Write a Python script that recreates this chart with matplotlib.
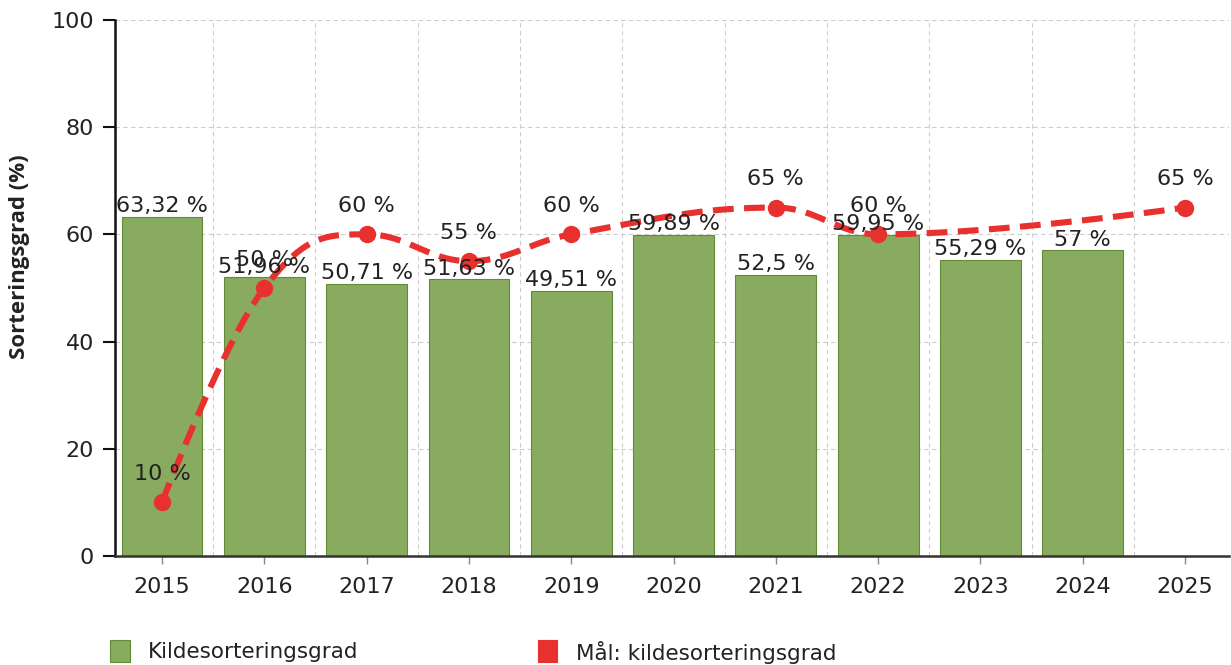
import numpy as np
import matplotlib
matplotlib.use("Agg")
import matplotlib.pyplot as plt
from matplotlib.patches import Rectangle

years = ["2015", "2016", "2017", "2018", "2019", "2020", "2021", "2022", "2023", "2024", "2025"]
kildesortering = [63.32, 51.96, 50.71, 51.63, 49.51, 59.89, 52.5, 59.95, 55.29, 57.0, np.nan]
maal = [10, 50, 60, 55, 60, np.nan, 65, 60, np.nan, np.nan, 65]
y_ticks = [0, 20, 40, 60, 80, 100]
bar_label = "Kildesorteringsgrad"
line_label = "Mål: kildesorteringsgrad"
y_title = "Sorteringsgrad (%)"

GREEN = "#88ab5f"
GREEN_EDGE = "#5f8c34"
RED = "#e8302e"

def fmt(v):
    s = ("%.2f" % v).rstrip("0").rstrip(".")
    return s.replace(".", ",") + " %"

def spline_path(xs, ys, smoothing=1.5, n=40):
    """Highcharts-style spline rendering through the given points."""
    m = len(xs)
    lc = [(x, y) for x, y in zip(xs, ys)]
    rc = [(x, y) for x, y in zip(xs, ys)]
    d = smoothing + 1
    for i in range(1, m - 1):
        x, y = xs[i], ys[i]
        lx, ly = xs[i - 1], ys[i - 1]
        nx, ny = xs[i + 1], ys[i + 1]
        lcx = (smoothing * x + lx) / d
        lcy = (smoothing * y + ly) / d
        rcx = (smoothing * x + nx) / d
        rcy = (smoothing * y + ny) / d
        if rcx != lcx:
            corr = ((rcy - lcy) * (rcx - x)) / (rcx - lcx) + y - rcy
            lcy += corr
            rcy += corr
        if lcy > max(ly, y):
            lcy = max(ly, y); rcy = 2 * y - lcy
        elif lcy < min(ly, y):
            lcy = min(ly, y); rcy = 2 * y - lcy
        if rcy > max(y, ny):
            rcy = max(y, ny); lcy = 2 * y - rcy
        elif rcy < min(y, ny):
            rcy = min(y, ny); lcy = 2 * y - rcy
        lc[i] = (lcx, lcy)
        rc[i] = (rcx, rcy)
    px, py = [xs[0]], [ys[0]]
    t = np.linspace(0, 1, n)[1:]
    for i in range(1, m):
        p0 = np.array([xs[i - 1], ys[i - 1]])
        p1 = np.array(rc[i - 1])
        p2 = np.array(lc[i])
        p3 = np.array([xs[i], ys[i]])
        b = ((1 - t) ** 3)[:, None] * p0 + (3 * (1 - t) ** 2 * t)[:, None] * p1 \
            + (3 * (1 - t) * t ** 2)[:, None] * p2 + (t ** 3)[:, None] * p3
        px.extend(b[:, 0]); py.extend(b[:, 1])
    return np.array(px), np.array(py)

plt.rcParams['font.family'] = ['DejaVu Sans']
fig = plt.figure(figsize=(12.31, 6.65), dpi=100)
ax = fig.add_axes([0.0934, 0.164, 0.905, 0.806])

x = np.arange(len(years))
bars_y = np.array(kildesortering, dtype=float)
mask_b = ~np.isnan(bars_y)
ax.bar(x[mask_b], bars_y[mask_b], width=0.79, color=GREEN, edgecolor=GREEN_EDGE,
       linewidth=0.8, zorder=2)
for xi, v in zip(x[mask_b], bars_y[mask_b]):
    ax.annotate(fmt(v), (xi, v), xytext=(0, 0.5), textcoords="offset points",
                ha="center", va="bottom", fontsize=16, color="#222222", zorder=6)

m_y = np.array(maal, dtype=float)
mask_m = ~np.isnan(m_y)
sx, sy = spline_path(x[mask_m].astype(float), m_y[mask_m])
ax.plot(sx, sy, color=RED, linewidth=4.4, dashes=(3.4, 1.7), solid_capstyle="butt",
        dash_capstyle="butt", zorder=4)
ax.plot(x[mask_m], m_y[mask_m], "o", color=RED, markersize=12.5, markeredgewidth=0,
        zorder=5)
for xi, v in zip(x[mask_m], m_y[mask_m]):
    ax.annotate(fmt(v), (xi, v), xytext=(0, 13), textcoords="offset points",
                ha="center", va="bottom", fontsize=16, color="#222222", zorder=7)

ax.set_xlim(-0.46, 10.43)
ax.set_ylim(0, 100)
ax.set_yticks(y_ticks)
ax.set_xticks(x)
ax.set_xticklabels(years)
ax.set_xticks(x[:-1] + 0.5, minor=True)
ax.tick_params(axis="x", which="major", length=6, width=1, color="#888888",
               labelsize=16, pad=9, labelcolor="#222222")
ax.tick_params(axis="x", which="minor", length=0)
ax.tick_params(axis="y", length=9, width=1.5, color="#111111", labelsize=16,
               pad=6, labelcolor="#222222")
ax.grid(axis="y", which="major", color="#cccccc", linestyle=(0, (4, 3)), linewidth=0.8, zorder=0)
ax.grid(axis="x", which="minor", color="#cccccc", linestyle=(0, (4, 3)), linewidth=0.8, zorder=0)
ax.grid(axis="x", which="major", visible=False)
ax.set_axisbelow(True)
for s in ["top", "right"]:
    ax.spines[s].set_visible(False)
ax.spines["left"].set_linewidth(1.8)
ax.spines["left"].set_color("#111111")
ax.spines["bottom"].set_linewidth(1.8)
ax.spines["bottom"].set_color("#333333")
ax.set_ylabel(y_title, fontsize=16, fontweight="bold", color="#222222",
              family=["Open Sans", "DejaVu Sans"])
W, H = 1231, 665
# ylabel centre at ~ (30, 257) px
ax.yaxis.set_label_coords((30 - 115) / (0.905 * W), (556 - 257) / (0.806 * H))

# legend (manual, to match placement)
fig.patches.append(Rectangle((110 / W, 1 - 662 / H), 20 / W, 22 / H, transform=fig.transFigure,
                             facecolor=GREEN, edgecolor=GREEN_EDGE, linewidth=0.8))
fig.text(148 / W, 1 - 652 / H, bar_label, fontsize=15.5, va="center", ha="left", color="#222222")
fig.patches.append(Rectangle((538 / W, 1 - 662 / H), 19 / W, 22 / H, transform=fig.transFigure,
                             facecolor=RED, edgecolor=RED, linewidth=0.8))
fig.text(576 / W, 1 - 652 / H, line_label, fontsize=15.5, va="center", ha="left", color="#222222")

fig.savefig("out.png", dpi=100)
